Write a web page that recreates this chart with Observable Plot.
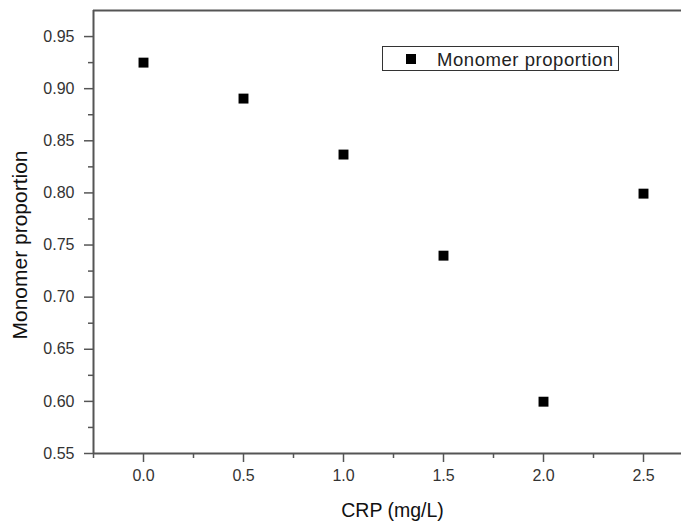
<!DOCTYPE html>
<html>
<head>
<meta charset="utf-8">
<script src="https://cdn.jsdelivr.net/npm/d3@7"></script>
<script src="https://cdn.jsdelivr.net/npm/@observablehq/plot@0.6"></script>
<style>
  html, body { margin: 0; padding: 0; background: #fff; }
  #wrap { position: relative; width: 681px; height: 523px; font-family: "Liberation Sans", Arial, sans-serif; }
  #legend { position: absolute; left: 382px; top: 46px; width: 235px; height: 23px; border: 1px solid #333; background: #fff; }
  #legend .sw { position: absolute; left: 23px; top: 6.5px; width: 10px; height: 10px; background: #000; }
  #legend .lb { position: absolute; left: 54px; top: 2.6px; font-size: 18.5px; line-height: 19px; color: #222; white-space: nowrap; letter-spacing: 0.55px; }
</style>
</head>
<body>
<div id="wrap"><div id="legend"><div class="sw"></div><div class="lb">Monomer proportion</div></div></div>
<script>
const crp = [0.0, 0.5, 1.0, 1.5, 2.0, 2.5];
const monomer = [0.925, 0.8905, 0.8368, 0.7398, 0.5997, 0.7993];
const xTicks = [0.0, 0.5, 1.0, 1.5, 2.0, 2.5];
const xMinor = [-0.25, 0.25, 0.75, 1.25, 1.75, 2.25];
const yTicks = [0.55, 0.60, 0.65, 0.70, 0.75, 0.80, 0.85, 0.90, 0.95];
const yMinor = [0.575, 0.625, 0.675, 0.725, 0.775, 0.825, 0.875, 0.925];
const xLabel = "CRP (mg/L)";
const yLabel = "Monomer proportion";

const data = crp.map((c, i) => ({crp: c, value: monomer[i]}));
const axisColor = "#555";
const font = "Liberation Sans, Arial, sans-serif";

const chart = Plot.plot({
  width: 681,
  height: 523,
  marginLeft: 93,
  marginRight: 0,
  marginTop: 10,
  marginBottom: 70,
  style: {fontFamily: font, background: "#fff", overflow: "visible"},
  x: {domain: [-0.25, 2.69], axis: null},
  y: {domain: [0.55, 0.975], axis: null},
  marks: [
    Plot.axisX({ticks: xTicks, tickFormat: ".1f", tickSize: 9, tickPadding: 7, fontSize: 16, letterSpacing: 0.4, stroke: axisColor, strokeWidth: 1.5, color: "#333", label: null}),
    Plot.axisX({ticks: xMinor, tickSize: 5, text: null, stroke: axisColor, strokeWidth: 1.5, label: null}),
    Plot.axisY({ticks: yTicks, tickFormat: ".2f", tickSize: 9, tickPadding: 10, fontSize: 16, letterSpacing: 0.5, stroke: axisColor, strokeWidth: 1.5, color: "#333", label: null}),
    Plot.axisY({ticks: yMinor, tickSize: 5, text: null, stroke: axisColor, strokeWidth: 1.5, label: null}),
    Plot.ruleX([-0.25], {stroke: axisColor, strokeWidth: 2}),
    Plot.ruleY([0.55], {stroke: axisColor, strokeWidth: 2}),
    Plot.ruleY([0.975], {stroke: axisColor, strokeWidth: 2}),
    Plot.dot(data, {x: "crp", y: "value", symbol: "square", r: 5.6, fill: "#000", stroke: null}),
    Plot.text([xLabel], {frameAnchor: "bottom", textAnchor: "middle", dy: 57, dx: 5, fontSize: 19.5, letterSpacing: 1.2, fill: "#111", lineAnchor: "middle"}),
    Plot.text([yLabel], {frameAnchor: "left", textAnchor: "middle", dx: -73, dy: 13, rotate: -90, fontSize: 21, letterSpacing: 1.0, fill: "#111", lineAnchor: "middle"})
  ]
});
document.getElementById("wrap").prepend(chart);
</script>
</body>
</html>
